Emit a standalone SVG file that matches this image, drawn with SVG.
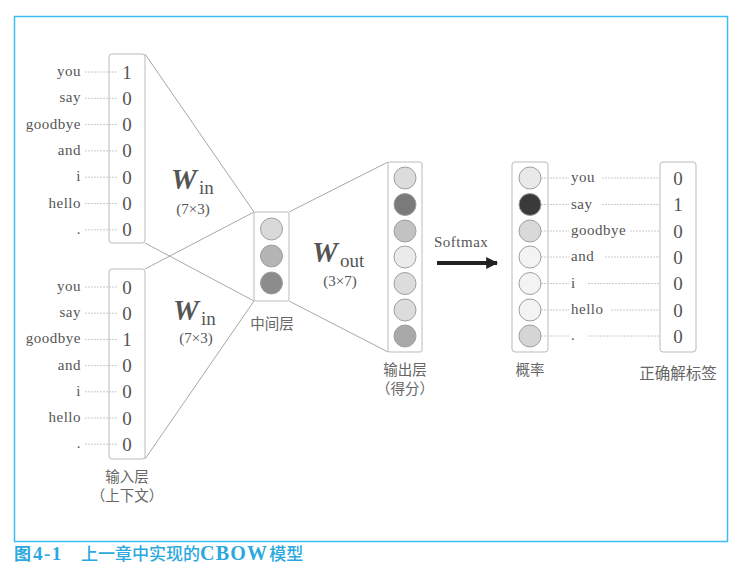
<svg xmlns="http://www.w3.org/2000/svg" width="748" height="580" viewBox="0 0 748 580">
<style>
.box{fill:#fff;stroke:#bbb;stroke-width:1}
.conn{stroke:#a8a8a8;stroke-width:1;fill:none}
.dot{stroke:#bcbcbc;stroke-width:0.8;stroke-dasharray:2 1;fill:none}
.c{stroke:#a0a0a0;stroke-width:1}
.w{font-family:"Liberation Serif",serif;font-size:15px;letter-spacing:0.5px;fill:#555}
.wl{text-anchor:end}
.d{font-family:"Liberation Serif",serif;font-size:19px;fill:#555;text-anchor:middle}
.W{font-family:"Liberation Serif",serif;font-size:29px;font-weight:bold;font-style:italic;fill:#555}
.sub{font-family:"Liberation Serif",serif;font-size:19px;fill:#555}
.dim{font-family:"Liberation Serif",serif;font-size:15px;fill:#555;text-anchor:middle}
.cj{font-family:"Noto Sans CJK SC",sans-serif;font-size:14.5px;fill:#666;text-anchor:middle}
</style>
<defs>
<marker id="ah" viewBox="0 0 10 10" refX="9" refY="5" markerWidth="3" markerHeight="3.4" orient="auto" markerUnits="strokeWidth">
<path d="M0,0 L10,5 L0,10 Z" fill="#222"/>
</marker>
</defs>
<rect x="14.5" y="16.5" width="713" height="525" fill="none" stroke="#3cbcf0" stroke-width="1.5"/>
<g id="connectors">
<line class="conn" x1="145" y1="54" x2="254" y2="212"/>
<line class="conn" x1="145" y1="243" x2="254" y2="301"/>
<line class="conn" x1="145" y1="269" x2="254" y2="212"/>
<line class="conn" x1="145" y1="459" x2="254" y2="301"/>
<line class="conn" x1="289" y1="212" x2="388" y2="162"/>
<line class="conn" x1="289" y1="301" x2="388" y2="352"/>
<line x1="437" y1="263" x2="497" y2="263" stroke="#222" stroke-width="4" marker-end="url(#ah)"/>
</g>
<g id="input-top">
<rect class="box" x="109" y="54" width="36" height="189" rx="3"/>
<g class="dot">
<line x1="85" y1="72" x2="118" y2="72"/><line x1="85" y1="98.3" x2="118" y2="98.3"/><line x1="85" y1="124.6" x2="118" y2="124.6"/><line x1="85" y1="150.9" x2="118" y2="150.9"/><line x1="85" y1="177.2" x2="118" y2="177.2"/><line x1="85" y1="203.5" x2="118" y2="203.5"/><line x1="85" y1="229.8" x2="118" y2="229.8"/>
</g>
<g class="w wl">
<text x="81" y="76">you</text><text x="81" y="102.3">say</text><text x="81" y="128.6">goodbye</text><text x="81" y="154.9">and</text><text x="81" y="181.2">i</text><text x="81" y="207.5">hello</text><text x="81" y="233.8">.</text>
</g>
<g class="d">
<text x="127" y="78.5">1</text><text x="127" y="104.8">0</text><text x="127" y="131.1">0</text><text x="127" y="157.4">0</text><text x="127" y="183.7">0</text><text x="127" y="210">0</text><text x="127" y="236.3">0</text>
</g>
</g>
<g id="input-bottom">
<rect class="box" x="109" y="269" width="36" height="190" rx="3"/>
<g class="dot">
<line x1="85" y1="287" x2="118" y2="287"/><line x1="85" y1="313.2" x2="118" y2="313.2"/><line x1="85" y1="339.4" x2="118" y2="339.4"/><line x1="85" y1="365.6" x2="118" y2="365.6"/><line x1="85" y1="391.8" x2="118" y2="391.8"/><line x1="85" y1="418" x2="118" y2="418"/><line x1="85" y1="444.2" x2="118" y2="444.2"/>
</g>
<g class="w wl">
<text x="81" y="291">you</text><text x="81" y="317.2">say</text><text x="81" y="343.4">goodbye</text><text x="81" y="369.6">and</text><text x="81" y="395.8">i</text><text x="81" y="422">hello</text><text x="81" y="448.2">.</text>
</g>
<g class="d">
<text x="127" y="293.5">0</text><text x="127" y="319.7">0</text><text x="127" y="345.9">1</text><text x="127" y="372.1">0</text><text x="127" y="398.3">0</text><text x="127" y="424.5">0</text><text x="127" y="450.7">0</text>
</g>
<text class="cj" x="127" y="482">输入层</text>
<text class="cj" x="127" y="501">（上下文）</text>
</g>
<g id="win-top">
<text class="W" x="171" y="189">W</text><text class="sub" x="199" y="194">in</text>
<text class="dim" x="193" y="214">(7×3)</text>
</g>
<g id="win-bottom">
<text class="W" x="173" y="320">W</text><text class="sub" x="201" y="325">in</text>
<text class="dim" x="196" y="343">(7×3)</text>
</g>
<g id="hidden">
<rect class="box" x="254" y="212" width="35" height="89" rx="2"/>
<circle class="c" cx="271.5" cy="229" r="11" fill="#d9d9d9"/>
<circle class="c" cx="271.5" cy="256" r="11" fill="#b5b5b5"/>
<circle class="c" cx="271.5" cy="283" r="11" fill="#8c8c8c"/>
<text class="cj" x="272" y="329">中间层</text>
</g>
<g id="wout">
<text class="W" x="312" y="262">W</text><text class="sub" x="340" y="267">out</text>
<text class="dim" x="340" y="286">(3×7)</text>
</g>
<g id="output">
<rect class="box" x="388" y="162" width="34" height="190" rx="2"/>
<circle class="c" cx="405" cy="178" r="11" fill="#dcdcdc"/>
<circle class="c" cx="405" cy="204.5" r="11" fill="#7a7a7a"/>
<circle class="c" cx="405" cy="231" r="11" fill="#c2c2c2"/>
<circle class="c" cx="405" cy="257" r="11" fill="#ebebeb"/>
<circle class="c" cx="405" cy="283.5" r="11" fill="#dcdcdc"/>
<circle class="c" cx="405" cy="310" r="11" fill="#dcdcdc"/>
<circle class="c" cx="405" cy="336" r="11" fill="#a9a9a9"/>
<text class="cj" x="405" y="375">输出层</text>
<text class="cj" x="405" y="394">（得分）</text>
</g>
<g id="softmax">
<text class="w" x="434" y="247">Softmax</text>
</g>
<g id="prob">
<rect class="box" x="512" y="162" width="36" height="190" rx="3"/>
<g class="dot">
<line x1="541" y1="178" x2="569" y2="178"/><line x1="541" y1="204.5" x2="569" y2="204.5"/><line x1="541" y1="231" x2="569" y2="231"/><line x1="541" y1="257" x2="569" y2="257"/><line x1="541" y1="283.5" x2="569" y2="283.5"/><line x1="541" y1="310" x2="569" y2="310"/><line x1="541" y1="336" x2="569" y2="336"/>
<line x1="602" y1="178" x2="668" y2="178"/><line x1="602" y1="204.5" x2="668" y2="204.5"/><line x1="630" y1="231" x2="668" y2="231"/><line x1="605" y1="257" x2="668" y2="257"/><line x1="588" y1="283.5" x2="668" y2="283.5"/><line x1="611" y1="310" x2="668" y2="310"/><line x1="588" y1="336" x2="668" y2="336"/>
</g>
<circle class="c" cx="530" cy="178" r="11" fill="#e9e9e9"/>
<circle class="c" cx="530" cy="204.5" r="11" fill="#3a3a3a"/>
<circle class="c" cx="530" cy="231" r="11" fill="#d9d9d9"/>
<circle class="c" cx="530" cy="257" r="11" fill="#f3f3f3"/>
<circle class="c" cx="530" cy="283.5" r="11" fill="#f3f3f3"/>
<circle class="c" cx="530" cy="310" r="11" fill="#f3f3f3"/>
<circle class="c" cx="530" cy="336" r="11" fill="#d5d5d5"/>
<g class="w">
<text x="571" y="182">you</text><text x="571" y="208.5">say</text><text x="571" y="235">goodbye</text><text x="571" y="261">and</text><text x="571" y="287.5">i</text><text x="571" y="314">hello</text><text x="571" y="340">.</text>
</g>
<text class="cj" x="530" y="375">概率</text>
</g>
<g id="labels">
<rect class="box" x="660" y="162" width="36" height="190" rx="3"/>
<g class="d">
<text x="678" y="184.5">0</text><text x="678" y="211">1</text><text x="678" y="237.5">0</text><text x="678" y="263.5">0</text><text x="678" y="290">0</text><text x="678" y="316.5">0</text><text x="678" y="342.5">0</text>
</g>
<text class="cj" x="678" y="379" style="font-size:15.5px">正确解标签</text>
</g>
<text x="14" y="560" style="font-size:17px;font-weight:bold;fill:#2aa8e0"><tspan style="font-family:'Noto Sans CJK SC',sans-serif">图</tspan><tspan dx="2" style="font-family:'Liberation Serif',serif;font-size:19px;letter-spacing:1.5px">4-1</tspan><tspan x="81" style="font-family:'Noto Sans CJK SC',sans-serif;font-weight:500">上一章中实现的</tspan><tspan style="font-family:'Liberation Serif',serif;font-size:20px;letter-spacing:1.2px">CBOW</tspan><tspan dx="1" style="font-family:'Noto Sans CJK SC',sans-serif;font-weight:500">模型</tspan></text>
</svg>
